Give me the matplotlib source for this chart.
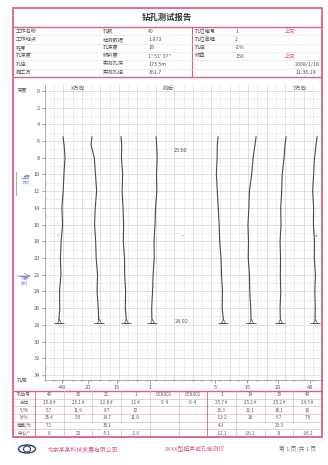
import numpy as np
import matplotlib.pyplot as plt
from matplotlib.patches import Rectangle, Ellipse

plt.rcParams['font.family'] = ['Noto Sans CJK SC', 'DejaVu Sans']

red = "#e0607a"
pink = "#f0b4c2"
txt = "#555555"
trace_c = "#4a4a4a"

title = "钻孔测试报告"

# header info
info_left = ["工作名称", "工作地点", "桩号", "孔深度", "孔径", "施工方"]
info_mid_lab = ["孔数", "检测数据", "孔深度", "倾斜度", "实测孔深", "实测孔径"]
info_mid_val = ["40", "1.873", "18", "1° 51′ 37″", "173.5m", "161.7"]
info_right_lab = ["孔位编号", "孔位高程", "孔径", "倾角", "", ""]
info_right_val = ["1", "2", "-2%", "150", "", ""]
info_status = ["正常", "", "", "正常", "2008/1/18", "11:36:18"]

# chart
head_labels = ["X方向", "前后", "Y方向"]
depth_ticks = list(range(0, 36, 2))
depths = [5.5, 6.5, 8, 10, 12, 14, 16, 18, 20, 22, 24, 26, 27.4]
hole_center = [1.95, 5.09, 8.23, 12.03, 18.74, 22.86, 26.11, 29.47]
hole1 = [0, 0.12, 0.22, 0.10, 0.02, -0.12, -0.05, -0.20, -0.28, -0.22, -0.38, -0.35, -0.45]
hole2 = [0, -0.10, 0.25, 0.38, 0.50, 0.35, 0.28, 0.40, 0.45, 0.60, 0.55, 0.68, 0.72]
hole3 = [0, 0.08, 0.05, 0.18, 0.12, 0.22, 0.28, 0.25, 0.38, 0.40, 0.50, 0.47, 0.58]
hole4 = [0, 0.06, 0.12, 0.05, 0.08, -0.06, -0.12, -0.22, -0.20, -0.32, -0.38, -0.48, -0.45]
hole5 = [0, -0.08, -0.10, -0.18, -0.08, 0.02, 0.12, 0.18, 0.32, 0.38, 0.48, 0.45, 0.58]
hole6 = [0, -0.12, -0.32, -0.48, -0.72, -0.78, -0.88, -0.82, -0.85, -0.72, -0.68, -0.58, -0.55]
hole7 = [0, -0.12, -0.22, -0.42, -0.48, -0.58, -0.55, -0.65, -0.60, -0.62, -0.58, -0.65, -0.62]
hole8 = [0, -0.12, -0.28, -0.38, -0.48, -0.38, -0.40, -0.28, -0.30, -0.18, -0.25, -0.20, -0.22]
holes = [hole1, hole2, hole3, hole4, hole5, hole6, hole7, hole8]
xtick_pos = [1.84, 4.66, 7.8, 11.4, 18.4, 21.9, 25.2, 28.7]
xtick_lab = ["-48", "20", "15", "1", "5", "15", "20", "48"]

# bottom table
tbl_labels = ["孔位号", "方位", "Y/%", "X/%", "偏差/%", "中心/°"]
tbl_hole = ["40", "30", "21", "1", "GE8001", "GE8001", "1", "14", "30", "40"]
tbl_dir = ["25.8 #", "25.1 #", "22.8 #", "12 #", "0  4", "0  4", "25.7 #", "25.2 #", "25.2 #", "24.5 #"]
tbl_y = ["5.7", "11.9", "8.7", "10", "", "", "16.3", "21.1", "18.1", "19"]
tbl_x = ["35.4", "5.5", "14.7", "11.0", "", "", "-13.2", "18", "6.7", "7.6"]
tbl_dev = ["7.1", "", "35.1", "", "", "", "4.3", "", "23.3", ""]
tbl_center = ["8", "22", "-5.1", "-1.9", "", "", "-12.1", "-16.1", "-8", "-16.2"]

footer = ["北京某某科技发展有限公司", "XXXX型超声成孔检测仪", "第 1 页/共 1 页"]

fig = plt.figure(figsize=(3.28, 4.65), dpi=100)
page = fig.add_axes([0, 0, 1, 1])
page.set_xlim(0, 328)
page.set_ylim(465, 0)
page.axis('off')

L, R, T, B = 13, 322, 8, 437
page.add_patch(Rectangle((L, T), R - L, B - T, fill=False, ec=red, lw=1.3, zorder=5))
page.plot([L, R], [27, 27], color=red, lw=1.0)
page.plot([L, R], [77, 77], color=red, lw=1.0)
page.plot([L, R], [391, 391], color=red, lw=1.0)
page.text(167, 17.5, title, ha='center', va='center', fontsize=6, color="#333", weight='bold')

# info table
row_h = (77 - 27) / 6
page.plot([192, 192], [27, 77], color=red, lw=0.8)
for i in range(6):
    y = 27 + row_h * (i + 0.5)
    if i > 0:
        page.plot([L, R], [27 + row_h * i, 27 + row_h * i], color="#f3d6dd", lw=0.4)
    page.text(16, y, info_left[i], fontsize=3.8, color=txt, va='center')
    page.text(103, y, info_mid_lab[i], fontsize=3.8, color=txt, va='center')
    page.text(148, y, info_mid_val[i], fontsize=3.8, color=txt, va='center')
    page.text(195, y, info_right_lab[i], fontsize=3.8, color=txt, va='center')
    page.text(235, y, info_right_val[i], fontsize=3.8, color=txt, va='center')
    sc = red if i < 4 else txt
    sx = 285 if i < 4 else 295
    page.text(sx, y, info_status[i], fontsize=3.8, color=sc, va='center')

# chart
x0, x1, y0, y1 = 45, 322, 85, 380
ax = fig.add_axes([x0 / 328, 1 - y1 / 465, (x1 - x0) / 328, (y1 - y0) / 465])
ax.set_xlim(0, 30)
ax.set_ylim(34.6, -0.7)
ax.patch.set_alpha(0)
for v in np.arange(1, 30, 1):
    ax.axvline(v, color="#c8c8c8" if v % 2 == 0 else "#e0e0e0", lw=0.4, zorder=0)
for d in np.arange(0, 35, 1):
    ax.axhline(d, color="#c8c8c8" if d % 2 == 0 else "#e2e2e2", lw=0.4, zorder=0)

for c, dev in zip(hole_center, holes):
    xs = c + np.array(dev)
    ax.plot(xs, depths, color=trace_c, lw=0.8)
    ax.plot(xs[-1], depths[-1] + 0.15, marker='^', mfc='none', mec=trace_c, ms=3, mew=0.5)
    ax.plot(xs[-1], depths[-1] + 0.35, marker='_', ms=7, mew=0.6, color=trace_c)

ax.text(14.7, 7.1, "25.00", fontsize=4, color=txt, ha='center', va='center')
ax.text(14.8, 27.6, "28.92", fontsize=4, color=txt, ha='center', va='center')
ax.text(14.9, 17.4, "–", fontsize=4, color=txt, ha='center', va='center')
ax.text(29.4, 17.4, "+", fontsize=4, color=txt, ha='center', va='center')
ax.text(1.4, 17.4, "–", fontsize=4, color=txt, ha='center', va='center')

ax.set_yticks(depth_ticks)
ax.set_yticklabels([str(d) for d in depth_ticks])
ax.set_xticks(xtick_pos)
ax.set_xticklabels(xtick_lab)
ax.set_xticks(np.arange(0, 31, 1), minor=True)
ax.tick_params(axis='both', labelsize=4, colors=txt, length=2, width=0.4, pad=1.5)
ax.tick_params(axis='x', which='minor', length=1.5, width=0.3, colors=txt)
for s in ['top', 'right']:
    ax.spines[s].set_visible(False)
for s in ['left', 'bottom']:
    ax.spines[s].set_color("#888")
    ax.spines[s].set_linewidth(0.5)

for xp, lab in zip([78, 168, 300], head_labels):
    page.text(xp, 88, lab, fontsize=4, color=txt, ha='center', va='center')
page.text(22, 90.5, "深度", fontsize=3.8, color=txt, ha='center', va='center')
page.text(22, 380, "孔底", fontsize=3.8, color=txt, ha='center', va='center')
page.plot([16, 16], [172, 195], color="#7fb07f", lw=0.6)
page.text(26, 180, "上限\n(m)", fontsize=3.2, color="#5060c0", ha='center', va='center', linespacing=1.0)
page.annotate("", xy=(33, 276), xytext=(14, 276),
              arrowprops=dict(arrowstyle='->', color="#5060c0", lw=0.4))
page.text(24, 281, "下限\n(m)", fontsize=3.2, color="#5060c0", ha='center', va='center', linespacing=1.0)

# bottom table
tb_top, tb_bot = 391, B
th = (tb_bot - tb_top) / 6
cl = 35
cw = (R - cl) / 10
rows = [tbl_hole, tbl_dir, tbl_y, tbl_x, tbl_dev, tbl_center]
for i in range(1, 6):
    page.plot([L, R], [tb_top + th * i] * 2, color=pink, lw=0.5)
for k in range(11):
    xv = cl + cw * k
    col = red if k in (0, 6) else "#d9b8c0"
    if k in (2, 3, 8, 9):
        page.plot([xv, xv], [tb_top, tb_top + th * 4], color=col, lw=0.5)
        page.plot([xv, xv], [tb_top + th * 5, tb_bot], color=col, lw=0.5)
    else:
        page.plot([xv, xv], [tb_top, tb_bot], color=col, lw=0.6 if k in (0, 6) else 0.5)
for i, row in enumerate(rows):
    y = tb_top + th * (i + 0.5)
    page.text((L + cl) / 2, y, tbl_labels[i], fontsize=3.3, color=txt, ha='center', va='center')
    for k, v in enumerate(row):
        page.text(cl + cw * (k + 0.5), y, v, fontsize=3.3, color=txt, ha='center', va='center')

# footer
page.add_patch(Ellipse((27, 449), 17, 8, fill=False, ec="#2a3a6a", lw=1.0))
page.add_patch(Ellipse((27, 449), 7, 6, fill=False, ec="#2a3a6a", lw=0.8))
page.text(48, 449, footer[0], fontsize=4.2, color="#d06080", va='center')
page.text(165, 449, footer[1], fontsize=4.2, color="#d06080", va='center')
page.text(316, 449, footer[2], fontsize=4.2, color="#777", va='center', ha='right')

fig.savefig("out.png", dpi=100)
